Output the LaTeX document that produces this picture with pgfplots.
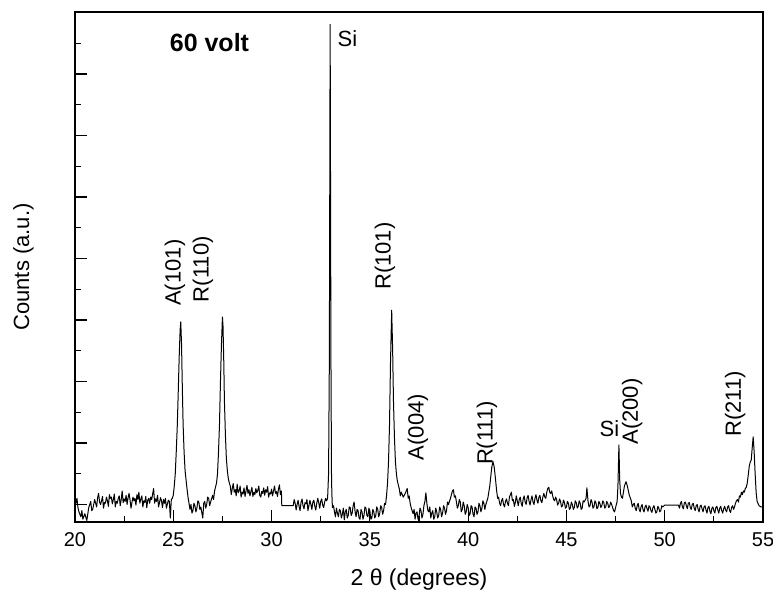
\documentclass[border=0pt]{standalone}
\usepackage{pgfplots}
\pgfplotsset{compat=1.18}
\usepackage{fontspec}
\setmainfont{Liberation Sans}
\pgfplotstableread{
x y
20.0 0.14
20.05 0.02
20.1 0.10
20.15 -0.05
20.2 -0.12
20.3 -0.20
20.35 -0.10
20.4 -0.24
20.5 -0.15
20.6 -0.26
20.7 -0.05
20.8 0.05
20.85 -0.10
20.9 -0.08
21.0 0.08
21.05 0.02
21.1 -0.04
21.15 0.11
21.2 0.18
21.25 0.04
21.3 0.00
21.35 0.06
21.4 0.13
21.45 -0.06
21.5 0.03
21.55 0.02
21.6 0.12
21.65 0.06
21.7 -0.03
21.75 0.16
21.8 0.10
21.85 0.12
21.9 0.01
21.95 0.08
22.0 0.17
22.05 -0.04
22.1 0.05
22.15 0.02
22.2 0.10
22.25 0.14
22.3 -0.02
22.35 0.08
22.4 0.22
22.45 0.03
22.5 0.09
22.55 0.05
22.6 0.15
22.65 0.00
22.7 0.11
22.75 0.18
22.8 0.07
22.85 -0.06
22.9 0.04
22.95 0.12
23.0 0.06
23.05 0.10
23.1 -0.01
23.15 0.16
23.2 0.08
23.25 0.20
23.3 0.02
23.35 0.09
23.4 0.14
23.45 -0.04
23.5 0.06
23.55 0.03
23.6 0.13
23.65 -0.05
23.7 0.07
23.75 0.10
23.8 0.02
23.85 0.12
23.9 0.08
24.0 0.26
24.05 0.02
24.1 0.09
24.15 0.05
24.2 0.15
24.25 -0.04
24.3 0.03
24.35 0.11
24.4 0.06
24.45 -0.05
24.5 0.08
24.55 0.02
24.6 0.10
24.65 -0.06
24.7 0.01
24.75 0.07
24.8 0.05
24.85 -0.22
24.9 0.08
24.95 0.10
25.0 0.15
25.05 0.30
25.1 0.50
25.15 0.85
25.2 1.25
25.25 1.80
25.3 2.40
25.35 2.85
25.38 2.97
25.42 2.60
25.46 1.90
25.5 1.30
25.55 0.85
25.6 0.55
25.65 0.40
25.7 0.25
25.75 0.12
25.8 0.02
25.85 -0.08
25.9 0.00
25.95 -0.14
26.0 -0.10
26.05 0.02
26.1 -0.02
26.15 -0.12
26.2 -0.06
26.25 0.06
26.3 0.04
26.35 -0.08
26.4 -0.04
26.5 -0.22
26.55 0.02
26.6 0.05
26.65 -0.06
26.7 0.00
26.75 0.12
26.8 0.10
26.85 -0.02
26.9 0.04
27.0 0.15
27.05 0.08
27.1 0.22
27.2 0.35
27.25 0.50
27.3 0.85
27.35 1.30
27.4 2.00
27.45 2.60
27.5 3.05
27.53 2.90
27.57 2.30
27.6 1.70
27.65 1.15
27.7 0.75
27.75 0.55
27.8 0.42
27.85 0.35
27.9 0.30
27.95 0.16
28.0 0.26
28.05 0.34
28.1 0.20
28.15 0.24
28.2 0.14
28.25 0.33
28.3 0.19
28.35 0.22
28.4 0.30
28.45 0.12
28.5 0.20
28.55 0.17
28.6 0.27
28.65 0.13
28.7 0.22
28.75 0.31
28.8 0.18
28.85 0.24
28.9 0.14
28.95 0.21
29.0 0.28
29.05 0.13
29.1 0.20
29.15 0.16
29.2 0.26
29.25 0.19
29.3 0.23
29.35 0.30
29.4 0.15
29.45 0.12
29.5 0.21
29.55 0.18
29.6 0.27
29.65 0.15
29.7 0.24
29.75 0.20
29.8 0.29
29.85 0.12
29.9 0.19
29.95 0.17
30.0 0.25
30.05 0.14
30.1 0.22
30.15 0.30
30.2 0.18
30.25 0.21
30.3 0.13
30.35 0.25
30.4 0.32
30.45 0.16
30.5 0.22
30.52 -0.02
31.1 -0.02
31.15 0.08
31.2 0.02
31.25 -0.09
31.3 0.00
31.35 0.07
31.4 -0.03
31.45 -0.10
31.5 0.04
31.55 0.09
31.6 -0.02
31.65 -0.07
31.7 0.03
31.75 0.01
31.8 0.08
31.85 -0.10
31.9 -0.02
31.95 0.07
32.0 0.00
32.05 -0.08
32.1 0.04
32.15 0.07
32.2 -0.03
32.25 -0.09
32.3 0.02
32.35 0.10
32.4 0.03
32.45 -0.06
32.5 0.05
32.55 0.09
32.6 -0.01
32.65 -0.05
32.7 0.04
32.75 0.10
32.8 0.06
32.85 0.10
32.9 0.50
32.94 2.40
32.98 7.81
33.02 2.40
33.05 0.40
33.08 0.05
33.1 -0.05
33.15 -0.02
33.2 -0.12
33.25 -0.20
33.3 -0.06
33.35 -0.14
33.4 -0.20
33.45 -0.08
33.5 -0.10
33.55 -0.22
33.6 -0.16
33.65 -0.06
33.7 -0.25
33.75 -0.12
33.8 -0.08
33.85 -0.22
33.9 -0.18
33.95 -0.04
34.0 -0.05
34.05 -0.18
34.1 -0.14
34.15 -0.02
34.2 0.04
34.25 -0.12
34.3 -0.20
34.35 -0.08
34.4 -0.10
34.45 -0.22
34.5 -0.24
34.55 -0.08
34.6 -0.12
34.65 -0.24
34.7 -0.18
34.75 -0.04
34.8 -0.06
34.85 -0.18
34.9 -0.20
34.95 -0.06
35.0 -0.10
35.05 -0.24
35.1 -0.22
35.15 -0.08
35.2 -0.12
35.25 -0.22
35.3 -0.18
35.35 -0.04
35.4 -0.08
35.45 -0.20
35.5 -0.15
35.55 -0.02
35.6 -0.05
35.65 -0.16
35.7 -0.10
35.75 0.02
35.8 0.00
35.85 0.15
35.9 0.35
35.95 0.70
36.0 1.30
36.05 2.30
36.11 3.16
36.16 2.50
36.2 1.70
36.25 1.10
36.3 0.70
36.35 0.50
36.4 0.38
36.5 0.25
36.55 0.14
36.6 0.20
36.7 0.12
36.8 0.18
36.9 0.26
36.95 0.10
37.0 0.14
37.05 0.02
37.1 -0.05
37.15 -0.10
37.2 -0.15
37.25 -0.08
37.3 -0.24
37.35 -0.14
37.4 -0.12
37.45 -0.24
37.5 -0.20
37.55 -0.06
37.6 -0.10
37.65 -0.22
37.7 -0.16
37.75 -0.02
37.8 0.05
37.85 0.19
37.9 0.02
37.95 -0.10
38.0 -0.12
38.05 -0.04
38.1 -0.22
38.15 -0.14
38.2 -0.10
38.25 -0.24
38.3 -0.20
38.35 -0.06
38.4 -0.12
38.45 -0.22
38.5 -0.18
38.55 -0.04
38.6 -0.08
38.65 -0.20
38.7 -0.14
38.75 -0.02
38.8 -0.06
38.85 -0.16
38.9 -0.10
38.95 0.04
39.0 0.00
39.1 0.10
39.2 0.22
39.25 0.24
39.3 0.12
39.35 0.14
39.4 0.05
39.45 -0.06
39.5 -0.02
39.55 0.08
39.6 0.04
39.65 -0.12
39.7 -0.08
39.75 0.04
39.8 -0.02
39.85 -0.16
39.9 -0.12
39.95 0.00
40.0 -0.05
40.05 -0.18
40.1 -0.15
40.15 -0.02
40.2 -0.04
40.25 -0.16
40.3 -0.20
40.35 -0.04
40.4 -0.06
40.45 -0.16
40.5 -0.12
40.55 0.02
40.6 -0.02
40.65 -0.12
40.7 -0.06
40.75 0.06
40.8 0.02
40.85 -0.08
40.9 0.00
41.0 0.10
41.1 0.30
41.15 0.45
41.2 0.60
41.26 0.70
41.32 0.62
41.38 0.45
41.45 0.22
41.5 0.10
41.55 0.12
41.6 0.02
41.65 -0.02
41.7 0.06
41.75 0.10
41.8 0.00
41.85 -0.04
41.9 0.05
41.95 0.09
42.0 0.02
42.05 -0.02
42.1 0.12
42.2 0.20
42.25 0.06
42.3 0.08
42.35 -0.03
42.4 0.03
42.45 0.14
42.5 0.06
42.55 -0.02
42.6 0.08
42.65 0.12
42.7 0.02
42.75 -0.03
42.8 0.09
42.85 0.14
42.9 0.04
42.95 0.00
43.0 0.11
43.05 0.15
43.1 0.05
43.15 -0.01
43.2 0.08
43.25 0.14
43.3 0.04
43.35 0.00
43.4 0.10
43.45 0.16
43.5 0.07
43.55 0.02
43.6 0.12
43.65 0.15
43.7 0.06
43.75 0.03
43.8 0.12
43.85 0.18
43.9 0.12
43.95 0.10
44.0 0.20
44.05 0.26
44.1 0.28
44.15 0.20
44.2 0.18
44.25 0.22
44.3 0.14
44.35 0.08
44.4 0.06
44.45 0.12
44.5 0.08
44.55 -0.01
44.6 0.02
44.65 0.09
44.7 0.05
44.75 -0.04
44.8 -0.02
44.85 0.07
44.9 0.03
44.95 -0.06
45.0 -0.04
45.05 0.05
45.1 0.02
45.15 -0.08
45.2 -0.06
45.25 0.04
45.3 0.00
45.35 -0.08
45.4 -0.05
45.45 0.06
45.5 0.03
45.55 -0.06
45.6 -0.03
45.65 0.06
45.7 0.02
45.75 -0.08
45.8 -0.06
45.85 0.06
45.9 0.04
46.0 0.10
46.04 0.27
46.1 0.05
46.15 -0.04
46.2 -0.02
46.25 0.08
46.3 0.04
46.35 -0.06
46.4 -0.04
46.45 0.06
46.5 0.03
46.55 -0.07
46.6 -0.05
46.65 0.05
46.7 0.02
46.75 -0.05
46.8 -0.02
46.85 0.06
46.9 0.03
46.95 -0.06
47.0 -0.04
47.05 0.05
47.1 0.02
47.15 -0.05
47.2 -0.03
47.25 0.04
47.3 0.00
47.4 -0.10
47.45 -0.12
47.5 -0.05
47.58 0.05
47.62 0.30
47.67 0.97
47.71 0.40
47.75 0.18
47.8 0.12
47.85 0.10
47.9 0.20
47.95 0.30
48.03 0.37
48.1 0.30
48.15 0.22
48.2 0.15
48.3 0.06
48.35 -0.04
48.4 0.00
48.45 0.02
48.5 -0.06
48.55 -0.10
48.6 -0.02
48.65 0.02
48.7 -0.08
48.75 -0.12
48.8 -0.03
48.85 0.00
48.9 -0.09
48.95 -0.12
49.0 -0.04
49.05 -0.01
49.1 -0.07
49.15 -0.11
49.2 -0.02
49.25 -0.04
49.3 -0.10
49.35 -0.13
49.4 -0.05
49.45 -0.02
49.5 -0.08
49.55 -0.14
49.6 -0.12
49.65 -0.03
49.7 -0.06
49.75 -0.12
49.8 -0.10
49.85 -0.02
49.9 -0.04
50.0 -0.01
50.7 -0.01
50.75 -0.06
50.8 0.02
50.85 0.05
50.9 -0.04
50.95 -0.07
51.0 0.03
51.05 0.04
51.1 -0.02
51.15 -0.07
51.2 0.02
51.25 0.03
51.3 -0.05
51.35 -0.08
51.4 0.00
51.45 0.02
51.5 -0.06
51.55 -0.10
51.6 -0.02
51.65 0.00
51.7 -0.08
51.75 -0.12
51.8 -0.03
51.85 -0.01
51.9 -0.07
51.95 -0.12
52.0 -0.04
52.05 -0.02
52.1 -0.09
52.15 -0.14
52.2 -0.05
52.25 -0.03
52.3 -0.11
52.35 -0.15
52.4 -0.06
52.45 -0.04
52.5 -0.10
52.55 -0.14
52.6 -0.05
52.65 -0.03
52.7 -0.09
52.75 -0.14
52.8 -0.06
52.85 -0.03
52.9 -0.10
52.95 -0.14
53.0 -0.07
53.05 -0.03
53.1 -0.09
53.15 -0.12
53.2 -0.04
53.25 -0.02
53.3 -0.10
53.35 -0.13
53.4 -0.05
53.45 -0.02
53.5 -0.08
53.55 -0.04
53.6 0.02
53.65 0.06
53.7 0.08
53.75 0.04
53.8 0.14
53.85 0.12
53.9 0.20
53.95 0.16
54.0 0.22
54.05 0.20
54.1 0.26
54.15 0.28
54.2 0.35
54.25 0.48
54.3 0.62
54.35 0.69
54.4 0.72
54.45 0.92
54.5 1.10
54.55 0.85
54.6 0.50
54.65 0.20
54.7 0.05
54.8 -0.02
54.9 -0.04
55.0 -0.04
}\xrd
\begin{document}
\begin{tikzpicture}
\useasboundingbox (-75pt,-67pt) rectangle (698pt,522pt);
\begin{axis}[
  at={(0,0)}, anchor=south west,
  scale only axis, width=688pt, height=510pt,
  xmin=20, xmax=55, ymin=-0.285, ymax=8.01,
  xtick={20,25,...,55}, minor x tick num=1,
  ytick={0,1,...,8}, minor y tick num=1, yticklabels={},
  tick align=inside, xtick pos=lower, ytick pos=left,
  major tick length=12pt, minor tick length=6pt,
  axis line style={line width=1.5pt},
  every tick/.style={black, line width=1.2pt},
  /pgf/number format/assume math mode=true,
  xticklabel style={font=\fontsize{20}{23}\selectfont, anchor=center, yshift=-18pt},
  xlabel={2 θ (degrees)},
  xlabel style={font=\fontsize{23}{27}\selectfont, at={(axis description cs:0.5,-0.112)}, anchor=center},
  ylabel={Counts (a.u.)},
  ylabel style={font=\fontsize{22}{26}\selectfont, at={(axis description cs:-0.075,0.5)}, anchor=center},
]
\addplot[black, line width=1.0pt, line join=round] table[x=x, y=y] {\xrd};
\node[font=\fontsize{25}{28}\selectfont\bfseries] at (axis cs:26.84,7.52) {60 volt};
\node[font=\fontsize{22}{26}\selectfont] at (axis cs:33.86,7.58) {Si};
\node[font=\fontsize{22}{26}\selectfont] at (axis cs:47.19,1.24) {Si};
\begin{scope}[every node/.style={font=\fontsize{22}{26}\selectfont, rotate=90, anchor=west, inner sep=0pt}]
\node at (axis cs:25.09,3.23) {A(101)};
\node at (axis cs:26.51,3.29) {R(110)};
\node at (axis cs:35.77,3.49) {R(101)};
\node at (axis cs:37.45,0.72) {A(004)};
\node at (axis cs:40.96,0.64) {R(111)};
\node at (axis cs:48.34,0.97) {A(200)};
\node at (axis cs:53.58,1.10) {R(211)};
\end{scope}
\end{axis}
\end{tikzpicture}
\end{document}
